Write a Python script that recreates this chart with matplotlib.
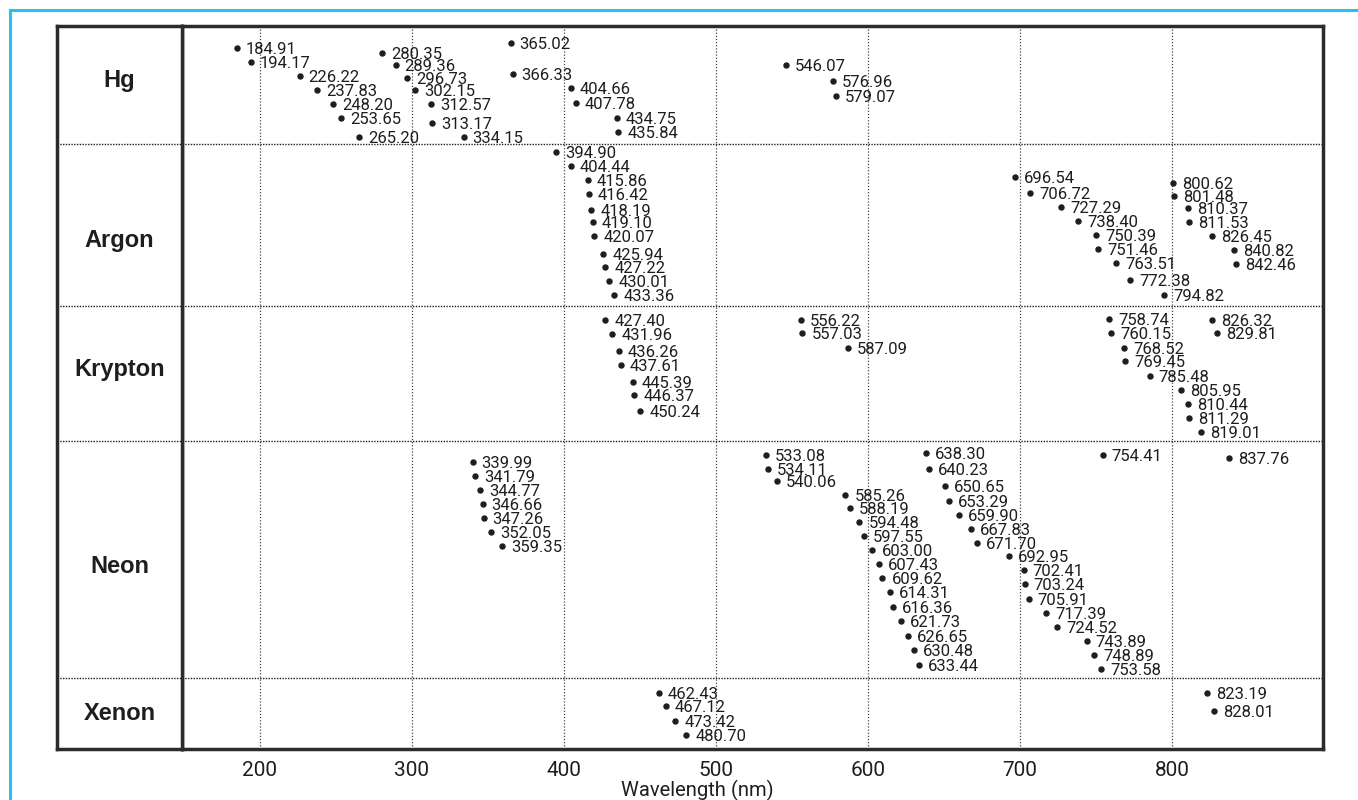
import numpy as np
import matplotlib.pyplot as plt
from matplotlib.lines import Line2D
from matplotlib.transforms import blended_transform_factory

plt.rcParams['font.family'] = ['Roboto', 'DejaVu Sans']

# emission lines (nm) for each lamp gas
elements = ["Hg", "Argon", "Krypton", "Neon", "Xenon"]

hg_nm = [184.91, 194.17, 226.22, 237.83, 248.20, 253.65, 265.20,
         280.35, 289.36, 296.73, 302.15, 312.57, 313.17, 334.15,
         365.02, 366.33, 404.66, 407.78, 434.75, 435.84,
         546.07, 576.96, 579.07]
argon_nm = [394.90, 404.44, 415.86, 416.42, 418.19, 419.10, 420.07,
            425.94, 427.22, 430.01, 433.36,
            696.54, 706.72, 727.29, 738.40, 750.39, 751.46, 763.51,
            772.38, 794.82,
            800.62, 801.48, 810.37, 811.53, 826.45, 840.82, 842.46]
krypton_nm = [427.40, 431.96, 436.26, 437.61, 445.39, 446.37, 450.24,
              556.22, 557.03, 587.09,
              758.74, 760.15, 768.52, 769.45, 785.48, 805.95, 810.44,
              811.29, 819.01,
              826.32, 829.81]
neon_nm = [339.99, 341.79, 344.77, 346.66, 347.26, 352.05, 359.35,
           533.08, 534.11, 540.06, 585.26, 588.19, 594.48, 597.55, 603.00,
           607.43, 609.62, 614.31, 616.36, 621.73, 626.65, 630.48, 633.44,
           638.30, 640.23, 650.65, 653.29, 659.90, 667.83, 671.70, 692.95,
           702.41, 703.24, 705.91, 717.39, 724.52, 743.89, 748.89, 753.58,
           754.41, 837.76]
xenon_nm = [462.43, 467.12, 473.42, 480.70, 823.19, 828.01]

# text line (from the top of each row) where every label sits
hg_line = [1.6, 2.6, 3.6, 4.6, 5.6, 6.6, 7.9,
           1.9, 2.8, 3.7, 4.6, 5.6, 6.9, 7.9,
           1.2, 3.4, 4.4, 5.5, 6.6, 7.6,
           2.8, 3.9, 5.0]
argon_line = [0.6, 1.6, 2.6, 3.6, 4.7, 5.6, 6.6, 7.9, 8.8, 9.8, 10.8,
              2.4, 3.5, 4.5, 5.5, 6.5, 7.5, 8.5, 9.7, 10.8,
              2.8, 3.7, 4.6, 5.6, 6.6, 7.6, 8.6]
krypton_line = [1.0, 2.0, 3.2, 4.2, 5.4, 6.3, 7.5,
                1.0, 1.9, 3.0,
                0.9, 1.9, 3.0, 3.9, 5.0, 6.0, 7.0, 8.0, 9.0,
                1.0, 1.9]
neon_line = [1.5, 2.5, 3.5, 4.5, 5.5, 6.5, 7.5,
             1.0, 2.0, 2.9, 3.9, 4.8, 5.8, 6.8, 7.8, 8.8, 9.8, 10.8, 11.9,
             12.9, 13.9, 14.9, 16.0,
             0.9, 2.0, 3.2, 4.3, 5.3, 6.3, 7.3, 8.2, 9.2, 10.2, 11.3, 12.3,
             13.3, 14.3, 15.3, 16.3,
             1.0, 1.2]
xenon_line = [1.1, 2.0, 3.1, 4.1, 1.1, 2.4]

row_height = [8.4, 11.6, 9.6, 16.9, 5.1]
name_line = [3.9, 15.3, 24.5, 38.6, 49.1]

all_nm = [hg_nm, argon_nm, krypton_nm, neon_nm, xenon_nm]
all_line = [hg_line, argon_line, krypton_line, neon_line, xenon_line]

ink = '#1e1e1e'
frame = '#2b2b2b'

W, H = 1358, 800
fig = plt.figure(figsize=(W / 100, H / 100), dpi=100)
ax = fig.add_axes([182 / W, 1 - 749 / H, (1323 - 182) / W, 723 / H])
ax_lab = fig.add_axes([57 / W, 1 - 749 / H, (182 - 57) / W, 723 / H], sharey=ax)

row_top = np.concatenate([[0], np.cumsum(row_height)])

for nm, line, top in zip(all_nm, all_line, row_top[:-1]):
    y = top + np.array(line)
    ax.plot(nm, y, 'o', ms=3.6, color=ink, zorder=3)
    for w, yy in zip(nm, y):
        ax.annotate(f"{w:.2f}", (w, yy), xytext=(6.5, 0), textcoords='offset points',
                    va='center_baseline', ha='left', fontsize=12, color=ink, zorder=3)

for b in row_top[1:-1]:
    for a in (ax, ax_lab):
        a.axhline(b, ls=(0, (1, 1)), lw=1.0, color=ink, zorder=1)

ax.set_xlim(148.9, 899.4)
ax.set_ylim(row_top[-1], 0)
ax.set_xticks(range(200, 900, 100))
ax.grid(axis='x', ls=(0, (1, 1.5)), lw=0.9, color='#444444', zorder=0)
ax.tick_params(axis='x', length=0, pad=9, labelsize=15, labelcolor=ink)
ax.tick_params(axis='y', left=False, labelleft=False)

ax_lab.set_xlim(0, 1)
ax_lab.tick_params(left=False, labelleft=False, bottom=False, labelbottom=False)
trans = blended_transform_factory(ax_lab.transAxes, ax_lab.transData)
for name, yy in zip(elements, name_line):
    ax_lab.text(0.5, yy, name, transform=trans, ha='center', va='center',
                fontsize=17, fontweight='bold', family='Liberation Sans', color=ink)

for a in (ax, ax_lab):
    for s in a.spines.values():
        s.set_linewidth(2.5)
        s.set_color(frame)

fig.text(697 / W, 1 - 790 / H, 'Wavelength (nm)', ha='center', va='center',
         fontsize=14.5, color=ink)

# light blue page edge, top and left
blue = '#22c4ef'
fig.add_artist(Line2D([10 / W, 1], [1 - 10 / H, 1 - 10 / H], color=blue, lw=2.2,
                      transform=fig.transFigure))
fig.add_artist(Line2D([10 / W, 10 / W], [0, 1 - 10 / H], color=blue, lw=2.2,
                      transform=fig.transFigure))

fig.savefig('out.png', dpi=100)
